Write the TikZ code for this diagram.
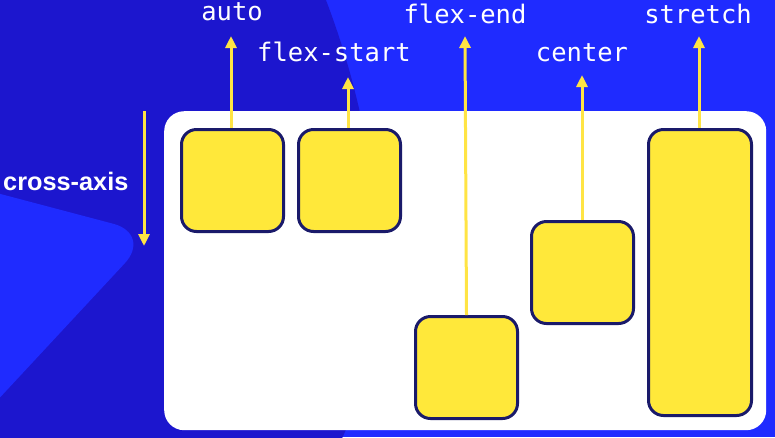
\documentclass[tikz,border=0pt]{standalone}
\usepackage{fontspec}
\newfontfamily\codefont{DejaVu Sans Mono}
\newfontfamily\labfont{Liberation Sans}
\usetikzlibrary{arrows.meta}
\definecolor{brightblue}{HTML}{1F2BFF}
\definecolor{darkblue}{HTML}{1C16CE}
\definecolor{boxyellow}{HTML}{FFE83A}
\definecolor{boxnavy}{HTML}{1A1A6A}
\definecolor{arrowyellow}{HTML}{FFE444}
\tikzset{
  itembox/.style={draw=boxnavy, line width=3pt, fill=boxyellow, rounded corners=15pt},
  upline/.style={draw=arrowyellow, line width=3pt, -{Triangle[length=12pt,width=11pt]}},
  codelabel/.style={text=white, font=\codefont\fontsize{25.5}{30}\selectfont, anchor=base, inner sep=0pt},
}
\begin{document}
\begin{tikzpicture}[x=1pt,y=-1pt]
\useasboundingbox (0,0) rectangle (775,437);
\fill[brightblue] (0,0) rectangle (775,437);
\begin{scope}
\clip (0,0) rectangle (775,437);
\fill[darkblue] (-10,-10) -- (322,-10) .. controls (370,110) and (410,300) .. (338,447) -- (-10,447) -- cycle;
\fill[brightblue, rounded corners=40pt] (-60,178) -- (152,234) -- (-60,462) -- cycle;
\end{scope}
% container
\node[fill=white, rounded corners=20pt, minimum width=602pt, minimum height=319pt, inner sep=0pt, anchor=north west] (cont) at (164,111) {};
% items
\node[itembox, minimum width=102pt, minimum height=102pt, anchor=north west, inner sep=0pt] (auto) at (180,128) {};
\node[itembox, minimum width=102pt, minimum height=102pt, anchor=north west, inner sep=0pt] (fstart) at (297,128) {};
\node[itembox, minimum width=102pt, minimum height=102pt, anchor=north west, inner sep=0pt] (fend) at (414,315) {};
\node[itembox, minimum width=102pt, minimum height=102pt, anchor=north west, inner sep=0pt] (cent) at (530,220) {};
\node[itembox, minimum width=103pt, minimum height=286pt, anchor=north west, inner sep=0pt] (stret) at (647,128) {};
% labels
\node[codelabel] (lauto) at (232,20) {auto};
\node[codelabel] (lfstart) at (334,61) {flex-start};
\node[codelabel] (lfend) at (465,23) {flex-end};
\node[codelabel] (lcent) at (582,61) {center};
\node[codelabel] (lstret) at (698,23) {stretch};
\node[text=white, font=\labfont\bfseries\fontsize{25.3}{28}\selectfont, anchor=base west, inner sep=0pt] (cross) at (3,190) {cross-axis};
% arrow tips
\coordinate (tauto) at (231,36);
\coordinate (tfstart) at (348,77);
\coordinate (tfend) at (465,36);
\coordinate (tcent) at (582,75);
\coordinate (tstret) at (699,36);
\coordinate (cstart) at (144,111);
\coordinate (cend) at (144,246);
\draw[upline] (auto.north -| tauto) -- (tauto);
\draw[upline] (fstart.north -| tfstart) -- (tfstart);
\draw[upline] (fend.north) -- (tfend);
\draw[upline] (cent.north -| tcent) -- (tcent);
\draw[upline] (stret.north -| tstret) -- (tstret);
\draw[upline] (cstart) -- (cend);
\end{tikzpicture}
\end{document}
